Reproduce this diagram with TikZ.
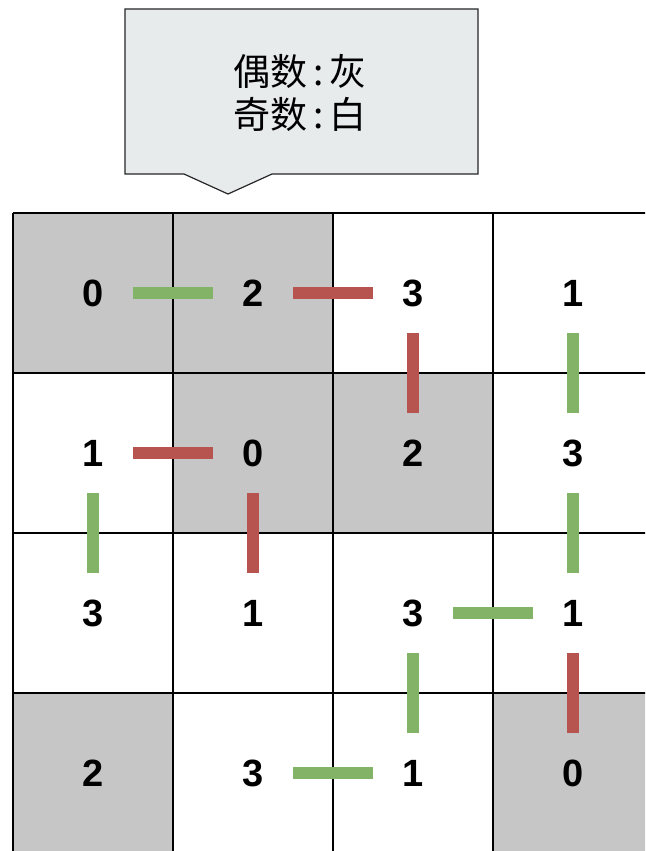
\documentclass[tikz,border=0pt]{standalone}
\usepackage{fontspec}
\setmainfont{Liberation Sans}
\newfontfamily\cjk{Noto Sans CJK SC}
\definecolor{cellgray}{HTML}{C6C6C6}
\definecolor{calloutfill}{HTML}{E8EBEC}
\definecolor{barGreen}{HTML}{82B366}
\definecolor{barRed}{HTML}{B85450}
\begin{document}
\begin{tikzpicture}[x=1pt,y=-1pt,
  num/.style={font=\fontsize{38}{38}\selectfont\bfseries, inner sep=0pt},
  gridline/.style={line width=1.5pt, black},
  barG/.style={line width=12pt, barGreen, line cap=butt, shorten <=40pt, shorten >=40pt},
  barR/.style={line width=12pt, barRed, line cap=butt, shorten <=40pt, shorten >=40pt},
  graycell/.style={fill=cellgray, draw=none}
]
\useasboundingbox (0,0) rectangle (645,851);
\clip (0,0) rectangle (645,851);
\fill[white] (0,0) rectangle (645,851);
% gray cells (even numbers)
\fill[graycell] (13,213) rectangle (333,373);
\fill[graycell] (173,373) rectangle (493,533);
\fill[graycell] (13,693) rectangle (173,853);
\fill[graycell] (493,693) rectangle (653,853);
% grid
\foreach \x in {13,173,333,493,653} \draw[gridline] (\x,213) -- (\x,853);
\foreach \y in {213,373,533,693,853} \draw[gridline] (13,\y) -- (653,\y);
% numbers
\node[num] (c11) at (93,293) {0};
\node[num] (c12) at (253,293) {2};
\node[num] (c13) at (413,293) {3};
\node[num] (c14) at (573,293) {1};
\node[num] (c21) at (93,453) {1};
\node[num] (c22) at (253,453) {0};
\node[num] (c23) at (413,453) {2};
\node[num] (c24) at (573,453) {3};
\node[num] (c31) at (93,613) {3};
\node[num] (c32) at (253,613) {1};
\node[num] (c33) at (413,613) {3};
\node[num] (c34) at (573,613) {1};
\node[num] (c41) at (93,773) {2};
\node[num] (c42) at (253,773) {3};
\node[num] (c43) at (413,773) {1};
\node[num] (c44) at (573,773) {0};
% bars
\draw[barG] (c11.center) -- (c12.center);
\draw[barR] (c12.center) -- (c13.center);
\draw[barR] (c13.center) -- (c23.center);
\draw[barG] (c14.center) -- (c24.center);
\draw[barR] (c21.center) -- (c22.center);
\draw[barG] (c21.center) -- (c31.center);
\draw[barR] (c22.center) -- (c32.center);
\draw[barG] (c24.center) -- (c34.center);
\draw[barG] (c33.center) -- (c34.center);
\draw[barG] (c33.center) -- (c43.center);
\draw[barR] (c34.center) -- (c44.center);
\draw[barG] (c42.center) -- (c43.center);
% callout
\draw[fill=calloutfill, draw=black!85, line width=1.2pt, line join=miter]
  (125,9) -- (478,9) -- (478,174) -- (272,174) -- (228,194) -- (184,174) -- (125,174) -- cycle;
\node[font=\cjk\fontsize{37}{43}\selectfont, align=center, inner sep=0pt] (legend) at (300,93) {偶数\,:\,灰\\奇数\,:\,白};
\end{tikzpicture}
\end{document}
